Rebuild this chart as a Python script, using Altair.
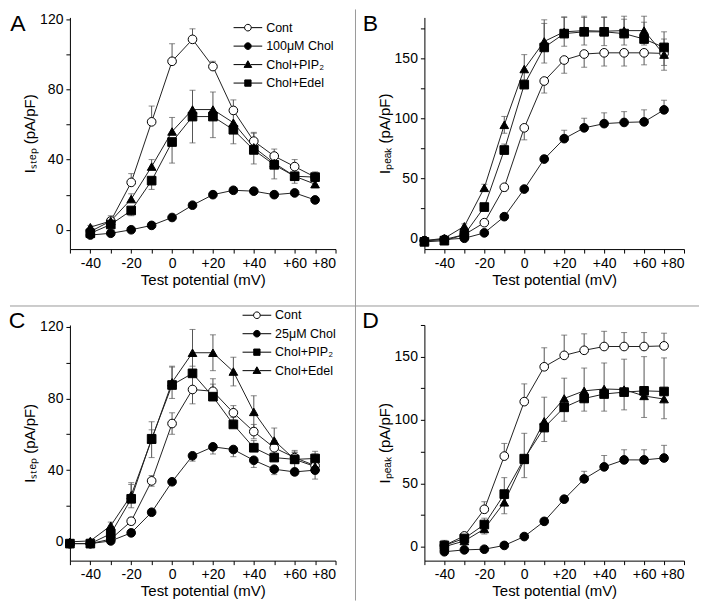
import altair as alt
import pandas as pd

# ---------------- data ----------------
V_A = [-40, -30, -20, -10, 0, 10, 20, 30, 40, 50, 60, 70]
V_B = [-50, -40, -30, -20, -10, 0, 10, 20, 30, 40, 50, 60, 70]
V_C = [-50, -40, -30, -20, -10, 0, 10, 20, 30, 40, 50, 60, 70]
V_D = [-40, -30, -20, -10, 0, 10, 20, 30, 40, 50, 60, 70]

NAMES_AB = ["Cont", "100μM Chol", "Chol+PIP₂", "Chol+Edel"]
NAMES_CD = ["Cont", "25μM Chol", "Chol+PIP₂", "Chol+Edel"]

# Panel A  (I_step)
A_CONT = [-1, 5, 27, 61.5, 96, 108.5, 93, 68, 50.5, 42, 36, 30]
A_CONT_ERR = [1, 3, 5, 9, 10, 6, 3, 6, 5, 4, 4, 3]
A_CHOL = [-3, -2, 0, 2.5, 7, 14, 20, 22.5, 22, 20, 21, 17]
A_CHOL_ERR = [1, 1, 1, 1, 1, 1, 1.5, 1.5, 1.5, 1.5, 1.5, 1.5]
A_PIP2 = [1.5, 5, 17.5, 36, 56, 68.5, 68.5, 61, 47, 38, 30.5, 26]
A_PIP2_ERR = [1, 2, 3, 4, 8, 11, 10, 5, 8, 5, 4, 3]
A_EDEL = [-2, 3, 11, 28, 50, 64.5, 64.5, 57, 45.5, 37, 30.5, 30]
A_EDEL_ERR = [1, 2, 3, 5, 12, 15, 12, 8, 8, 8, 4, 6]

# Panel B  (I_peak)
B_CONT = [-2, -1, 3, 13, 42.5, 92, 131, 148.5, 153.5, 154.5, 154.5, 154.5, 154]
B_CONT_ERR = [1, 1, 1, 2, 3, 10, 10, 11, 11, 11, 11, 10, 10]
B_CHOL = [-2, -1, 0, 4.5, 18, 41, 66, 83, 92, 95.5, 96.5, 97, 107]
B_CHOL_ERR = [1, 1, 1, 2, 2, 2, 3, 7, 8, 9, 9, 10, 8]
B_PIP2 = [-2, 0, 10, 42, 94.5, 141, 164, 172, 173, 172.5, 173, 173, 153]
B_PIP2_ERR = [1, 1, 2, 3, 7, 12, 18, 12, 12, 12, 12, 12, 13]
B_EDEL = [-3, -2, 3, 26, 73.5, 128, 159, 170.5, 172, 172, 170.5, 166, 159]
B_EDEL_ERR = [1, 1, 2, 3, 5, 4, 20, 14, 12, 12, 12, 14, 13]

# Panel C  (I_step)
C_CONT = [-1, -1, 1.5, 11.5, 34, 66, 85, 84, 72, 61.5, 52.5, 47, 42.5]
C_CONT_ERR = [1, 1, 1, 2, 3, 6, 8, 4, 4, 4, 4, 3, 3]
C_CHOL = [-1, -1, 0.5, 5, 16.5, 33.5, 48, 53, 51.5, 45.5, 40.5, 39, 40]
C_CHOL_ERR = [1, 1, 1, 1, 1, 1, 3, 4, 4, 4, 3, 2, 2]
C_PIP2 = [-1, -1, 4.5, 24, 57.5, 87.5, 94, 81, 65.5, 52.5, 47, 46, 46.5]
C_PIP2_ERR = [1, 1, 2, 8, 5, 10, 4, 10, 4, 4, 4, 4, 4]
C_EDEL = [0, 0.5, 9, 26, 57, 89, 105.5, 105.5, 95, 72.5, 56.5, 46, 42]
C_EDEL_ERR = [1, 1, 2, 7, 10, 9, 13, 10, 8, 9, 7, 5, 7]

# Panel D  (I_peak)
D_CONT = [1, 8.5, 29.5, 71.5, 114.5, 142, 151, 155, 158, 158, 158, 158.5]
D_CONT_ERR = [2, 2, 6, 10, 14, 15, 16, 13, 12, 11, 11, 10]
D_CHOL = [-4, -2.5, -2, 1, 8, 20, 37.5, 53.5, 63, 68.5, 68.5, 70]
D_CHOL_ERR = [1, 1, 1, 1, 1, 1, 1, 6, 9, 8, 8, 10]
D_PIP2 = [1, 6.5, 17.5, 41.5, 69.5, 94, 110, 117, 120.5, 122, 123, 122.5]
D_PIP2_ERR = [4, 2, 5, 13, 20, 24, 23, 24, 24.5, 26, 27, 26.5]
D_EDEL = [0, 4.5, 14, 35, 68.5, 99, 117, 123, 124.5, 124, 119, 116.5]
D_EDEL_ERR = [3, 3, 4, 9, 14, 16, 18, 16, 17.5, 16, 17, 15.5]

# ---------------- styles ----------------
SHAPES_AB = ["circle", "circle", "triangle-up", "square"]
SHAPES_CD = ["circle", "circle", "square", "triangle-up"]
FILLS = ["white", "black", "black", "black"]
STROKES = ["black", "black", "black", "black"]
DIRS_A = ["up", "up", "up", "down"]
DIRS_B = ["down", "up", "both", "up"]
DIRS_C = ["both", "down", "up", "both"]
DIRS_D = ["up", "up", "up", "down"]

# legend symbols: short line on both sides of a small marker
# (symbolSize 49 -> 1 unit = 3.5 px)
LEG_PATH = {
    "circle": "M-4.1,0H-0.95M0.95,0H4.1M0.95,0A0.95,0.95 0 1,1 -0.95,0A0.95,0.95 0 1,1 0.95,0Z",
    "square": "M-4.1,0H-0.9M0.9,0H4.1M-0.9,-0.9H0.9V0.9H-0.9Z",
    "triangle-up": "M-4.1,0H-0.8M0.8,0H4.1M0,-1.1L1.1,0.8L-1.1,0.8Z",
}

FONT = "Liberation Sans"
SEP = "#9a9a9a"
IND = dict(shape="independent", fill="independent", stroke="independent")


def panel(letter, xs, names, vals, errs, dirs, shapes, ydom, tick_step, label_step,
          ytitle, w, h, letter_xy, legend_xy=None, extra=()):
    rows, caps = [], []
    for name, sv, se, d in zip(names, vals, errs, dirs):
        for xv, yv, e in zip(xs, sv, se):
            lo = yv - e if d in ("down", "both") else yv
            hi = yv + e if d in ("up", "both") else yv
            rows.append({"v": xv, "i": yv, "lo": lo, "hi": hi, "series": name})
            if d in ("up", "both"):
                caps.append({"v": xv, "c": yv + e, "series": name})
            if d in ("down", "both"):
                caps.append({"v": xv, "c": yv - e, "series": name})
    df = pd.DataFrame(rows)
    cdf = pd.DataFrame(caps)

    xscale = alt.Scale(domain=[-50, 80], nice=False, zero=False)
    xaxis = alt.Axis(
        values=list(range(-50, 81, 10)),
        labelExpr="datum.value % 20 == 0 ? (datum.value > 0 ? '+' + datum.value : '' + datum.value) : ''",
        title="Test potential (mV)",
    )
    yscale = alt.Scale(domain=ydom, nice=False, zero=False)
    yaxis = alt.Axis(
        values=list(range(0, int(ydom[1]) + 1, tick_step)),
        labelExpr=f"datum.value % {label_step} == 0 ? '' + datum.value : ''",
        title=ytitle,
    )
    X = alt.X("v:Q", scale=xscale, axis=xaxis)

    base = alt.Chart(df)
    lines = base.mark_line(color="#222222", strokeWidth=1).encode(
        X, alt.Y("i:Q", scale=yscale, axis=yaxis), detail="series:N")
    bars = base.mark_rule(color="#555555", strokeWidth=1).encode(
        X, alt.Y("lo:Q", scale=yscale, axis=yaxis), y2="hi:Q")
    capm = alt.Chart(cdf).mark_tick(color="#555555", thickness=1, size=6,
                                    orient="horizontal").encode(
        X, alt.Y("c:Q", scale=yscale, axis=yaxis))
    pts = base.mark_point(filled=True, opacity=1, size=75, stroke="black",
                          strokeWidth=1).encode(
        X, alt.Y("i:Q", scale=yscale, axis=yaxis),
        shape=alt.Shape("series:N", scale=alt.Scale(domain=names, range=shapes), legend=None),
        fill=alt.Fill("series:N", scale=alt.Scale(domain=names, range=FILLS), legend=None),
    )
    layers = [lines, bars, capm, pts]

    if legend_xy is not None:
        leg = alt.Legend(
            orient="none", legendX=legend_xy[0], legendY=legend_xy[1], title=None,
            symbolSize=49, symbolStrokeWidth=1,
            symbolOpacity=1, labelFont=FONT, labelFontSize=12.5, labelColor="black",
            labelOffset=12, rowPadding=5.5, padding=0, symbolOffset=0,
        )
        legl = base.transform_filter("false").mark_point(
            filled=True, opacity=1, strokeWidth=1).encode(
            X, alt.Y("i:Q", scale=yscale, axis=yaxis),
            shape=alt.Shape("series:N", scale=alt.Scale(
                domain=names, range=[LEG_PATH[s] for s in shapes]), legend=leg),
            fill=alt.Fill("series:N", scale=alt.Scale(domain=names, range=FILLS), legend=leg),
            stroke=alt.Stroke("series:N", scale=alt.Scale(domain=names, range=STROKES), legend=leg),
        )
        layers.append(legl)

    lab = alt.Chart(pd.DataFrame({"t": [letter]})).mark_text(
        font=FONT, fontSize=23, align="center", baseline="alphabetic", color="black"
    ).encode(text="t:N", x=alt.value(letter_xy[0]), y=alt.value(letter_xy[1]))
    layers.append(lab)
    layers.extend(extra)

    return alt.layer(*layers).resolve_scale(**IND).properties(width=w, height=h)


one = pd.DataFrame({"k": [0]})
vsep = alt.Chart(one).mark_rule(color=SEP, strokeWidth=1).encode(
    x=alt.value(286), y=alt.value(-8), y2=alt.value(584))
hsep = alt.Chart(one).mark_rule(color=SEP, strokeWidth=1).encode(
    y=alt.value(289), x=alt.value(-60), x2=alt.value(630))

pA = panel("A", V_A, NAMES_AB, [A_CONT, A_CHOL, A_PIP2, A_EDEL],
           [A_CONT_ERR, A_CHOL_ERR, A_PIP2_ERR, A_EDEL_ERR], DIRS_A, SHAPES_AB,
           [-11, 121], 20, 40, "Iₛₜₑₚ (pA/pF)", 266, 232, (-52, 14),
           legend_xy=(172, 4), extra=(vsep, hsep))
pB = panel("B", V_B, NAMES_AB, [B_CONT, B_CHOL, B_PIP2, B_EDEL],
           [B_CONT_ERR, B_CHOL_ERR, B_PIP2_ERR, B_EDEL_ERR], DIRS_B, SHAPES_AB,
           [-9, 184], 25, 50, "Iₚₑₐₖ (pA/pF)", 260, 232, (-54, 14))
pC = panel("C", V_C, NAMES_CD, [C_CONT, C_CHOL, C_PIP2, C_EDEL],
           [C_CONT_ERR, C_CHOL_ERR, C_PIP2_ERR, C_EDEL_ERR], DIRS_C, SHAPES_CD,
           [-10.5, 121], 20, 40, "Iₛₜₑₚ (pA/pF)", 266, 236, (-53, 3),
           legend_xy=(181, -16))
pD = panel("D", V_D, NAMES_CD, [D_CONT, D_CHOL, D_PIP2, D_EDEL],
           [D_CONT_ERR, D_CHOL_ERR, D_PIP2_ERR, D_EDEL_ERR], DIRS_D, SHAPES_CD,
           [-11, 175], 25, 50, "Iₚₑₐₖ (pA/pF)", 260, 236, (-54, 3))

chart = alt.concat(
    pA, pB, pC, pD, columns=2, spacing={"row": 76, "column": 89}, bounds="flush"
).resolve_scale(**IND).properties(padding=0).configure(font=FONT).configure_view(
    stroke=None
).configure_axis(
    labelFont=FONT, labelFontSize=14, labelColor="black", labelPadding=3,
    titleFont=FONT, titleFontSize=15, titleFontWeight="normal", titleColor="black",
    titlePadding=2, domainColor="black", domainWidth=1, tickColor="black",
    tickSize=4, tickWidth=1, grid=False,
)

chart.save("out.html", embed_options={"renderer": "svg", "actions": False})
